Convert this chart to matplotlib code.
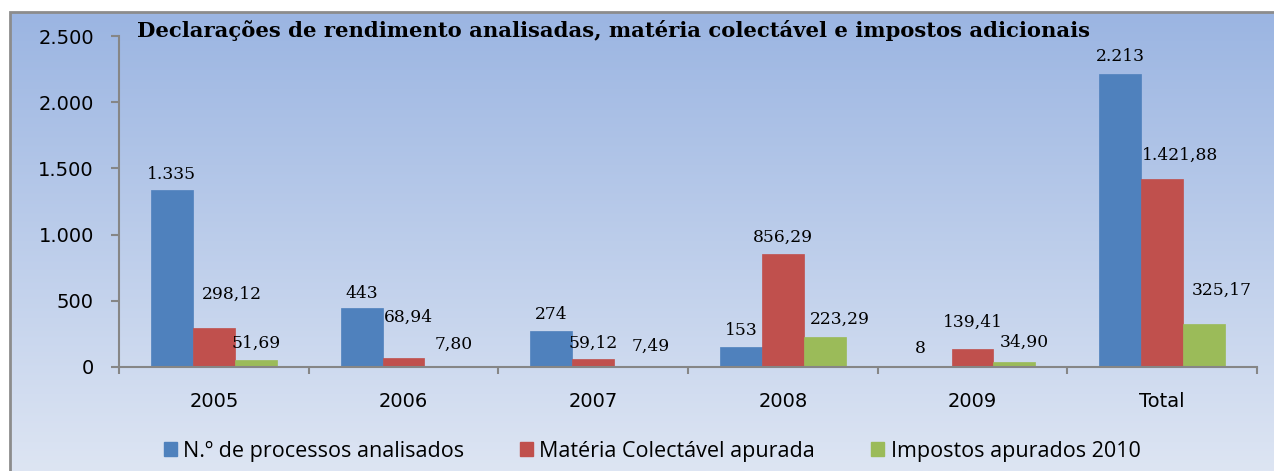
import matplotlib
matplotlib.use("Agg")
import matplotlib.pyplot as plt
import numpy as np
from matplotlib.patches import Rectangle, Patch

# ---------------- data ----------------
categories = ["2005", "2006", "2007", "2008", "2009", "Total"]
processos = [1335, 443, 274, 153, 8, 2213]
materia = [298.12, 68.94, 59.12, 856.29, 139.41, 1421.88]
impostos = [51.69, 7.80, 7.49, 223.29, 34.90, 325.17]
series_names = ["N.º de processos analisados", "Matéria Colectável apurada",
                "Impostos apurados 2010"]
title = "Declarações de rendimento analisadas, matéria colectável e impostos adicionais"
yticks = [0, 500, 1000, 1500, 2000, 2500]

# ---------------- style ----------------
colors = ["#4F81BD", "#C0504D", "#9BBB59"]
# label offsets in pixels (dx, dy above bar top) for each series/category
label_off = [
    [(0, 16), (0, 15), (0, 16), (0, 16), (-10, 17), (0, 17)],
    [(18, 33), (5, 41), (0, 16), (0, 16), (0, 26), (18, 23)],
    [(0, 17), (8, 22), (16, 20), (15, 18), (10, 20), (18, 34)],
]

W, H = 1274, 471
fig = plt.figure(figsize=(W / 100, H / 100), dpi=100)
fig.patch.set_facecolor("white")

# background frame with vertical gradient
fx0, fy0 = 10 / W, 0.0
fx1, fy1 = 1.0, 1 - 12 / H
bg = fig.add_axes([fx0, fy0, fx1 - fx0, fy1 - fy0], zorder=0)
top = np.array([0x9B, 0xB5, 0xE2]) / 255
bot = np.array([0xDD, 0xE5, 0xF3]) / 255
t = np.linspace(0, 1, 256)[:, None]
grad = top[None, :] * (1 - t) + bot[None, :] * t
bg.imshow(grad[:, None, :], aspect="auto", extent=[0, 1, 0, 1])
bg.set_axis_off()
fig.patches.append(Rectangle((fx0, -0.01), 1.02 - fx0, fy1 + 0.01,
                             transform=fig.transFigure, fill=False,
                             edgecolor="#8C8C8C", linewidth=2, zorder=5))

# main axes
ax_l, ax_r = 119 / W, 1257 / W
ax_b, ax_t = 1 - 367 / H, 1 - 36 / H
ax = fig.add_axes([ax_l, ax_b, ax_r - ax_l, ax_t - ax_b], zorder=1)
ax.patch.set_alpha(0)

x = np.arange(len(categories))
bw = 0.221
all_series = [processos, materia, impostos]
for i, (vals, col) in enumerate(zip(all_series, colors)):
    pos = x + (i - 1) * bw
    bars = ax.bar(pos, vals, width=bw, color=col, edgecolor=col, linewidth=0.5,
                  label=series_names[i], zorder=2)
    for j, (b, v) in enumerate(zip(bars, vals)):
        if i == 0:
            s = f"{v:,.0f}".replace(",", ".")
        else:
            s = f"{v:,.2f}".replace(",", "X").replace(".", ",").replace("X", ".")
        dx, dy = label_off[i][j]
        ax.annotate(s, (b.get_x() + b.get_width() / 2, b.get_height()),
                    xytext=(dx, dy), textcoords="offset pixels",
                    ha="center", va="center", fontsize=12.3,
                    family="DejaVu Serif", color="black", zorder=3)

ax.set_xlim(-0.5, len(categories) - 0.5)
ax.set_ylim(0, 2500)
ax.set_yticks(yticks)
ax.set_yticklabels([f"{v:,}".replace(",", ".") for v in yticks])
ax.set_xticks(x)
ax.set_xticklabels(categories)
ax.set_xticks(np.arange(-0.5, len(categories)), minor=True)
ax.tick_params(axis="x", which="major", length=0, pad=18, labelsize=14)
ax.tick_params(axis="x", which="minor", length=5, width=1.5, color="#868686",
               direction="out")
ax.tick_params(axis="y", length=6, width=1.5, color="#868686", pad=12,
               labelsize=14)
for sp in ["top", "right"]:
    ax.spines[sp].set_visible(False)
for sp in ["left", "bottom"]:
    ax.spines[sp].set_color("#868686")
    ax.spines[sp].set_linewidth(1.5)

# title, sized to span the same width as in the reference
ttl = fig.text(137 / W, 1 - 37 / H, title, family="DejaVu Serif",
               fontweight="bold", fontsize=16, ha="left", va="baseline", zorder=6)
fig.canvas.draw()
ext = ttl.get_window_extent()
ttl.set_fontsize(16 * 951 / ext.width)

handles = [Patch(facecolor=c, edgecolor=c) for c in colors]
fig.legend(handles, series_names, loc="center", bbox_to_anchor=(652 / W, 1 - 451 / H),
           ncol=3, frameon=False, prop={"family": "Open Sans", "size": 15.5},
           handlelength=0.6, handleheight=0.6, handletextpad=0.3,
           columnspacing=2.6)

fig.savefig("out.png", dpi=100)
